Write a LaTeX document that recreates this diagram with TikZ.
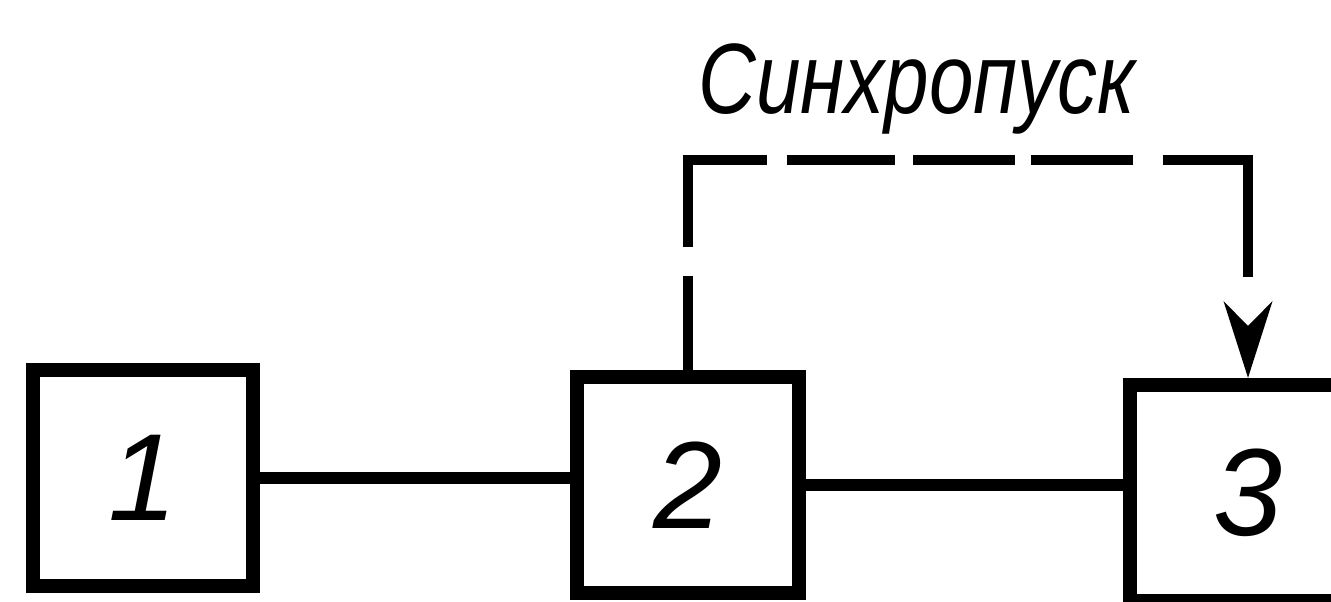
\documentclass[tikz,border=0pt]{standalone}
\usepackage{fontspec}
\setmainfont{Liberation Sans}
\usetikzlibrary{arrows.meta}
\tikzset{
  blok/.style={draw, line width=7pt, minimum width=110pt, minimum height=108pt,
    inner sep=0pt, font=\fontsize{62}{62}\selectfont\itshape},
  wire/.style={line width=6pt},
  sync/.style={line width=5pt,
    dash pattern=on 47pt off 14.5pt on 83pt off 10pt on 54pt off 9pt on 51pt off 8pt on 51pt off 15pt on 101pt off 40pt,
    -{Stealth[length=38pt,width=24pt,inset=12pt]}},
}
\begin{document}
\begin{tikzpicture}[x=0.5pt,y=-0.5pt]
  \useasboundingbox (0,0) rectangle (1331,601);
  \draw
    (143,478) node[blok] (b1){1}
    (688,485) node[blok,minimum width=111pt] (b2){2}
    (1248,493) node[blok,minimum width=118pt] (b3){3};
  \coordinate (top) at (1248,160);
  \node[anchor=base,font=\fontsize{50}{50}\selectfont\itshape] (lbl) at (917,113)
    {\scalebox{0.8}[1]{Синхропуск}};
  \begin{scope}[wire]
    \draw (b1.east) -- (b1.east -| b2.west);
    \draw (b2.east) -- (b2.east -| b3.west);
  \end{scope}
  \draw[sync] (b2.north) |- (top) -- (b3.north);
\end{tikzpicture}
\end{document}
